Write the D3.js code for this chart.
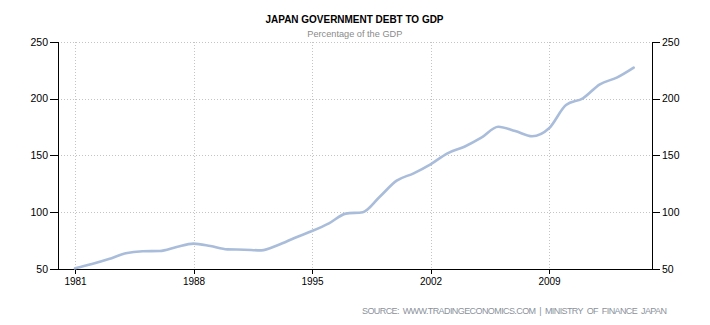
<!DOCTYPE html>
<html>
<head>
<meta charset="utf-8">
<script src="https://cdn.jsdelivr.net/npm/d3@7"></script>
<style>
  html, body { margin: 0; padding: 0; background: #fff; }
  svg { display: block; }
</style>
</head>
<body>
<svg id="chart" width="710" height="325"></svg>
<script>
// Japan government debt, percent of GDP, yearly
const years = [1981, 1982, 1983, 1984, 1985, 1986, 1987, 1988, 1989, 1990,
               1991, 1992, 1993, 1994, 1995, 1996, 1997, 1998, 1999, 2000,
               2001, 2002, 2003, 2004, 2005, 2006, 2007, 2008, 2009, 2010,
               2011, 2012, 2013, 2014];
const debtToGdp = [50.6, 54.4, 58.8, 63.8, 65.6, 65.9, 69.4, 72.3, 70.2, 67.3,
                   67.0, 66.4, 71.1, 77.5, 83.4, 90.2, 98.7, 100.0, 113.6, 127.7,
                   134.2, 142.1, 151.8, 157.6, 165.5, 175.2, 171.4, 166.8, 173.8, 194.3,
                   200.2, 212.5, 218.4, 227.2];
const xTickYears = [1981, 1988, 1995, 2002, 2009];
const yTickValues = [50, 100, 150, 200, 250];

const title = "JAPAN GOVERNMENT DEBT TO GDP";
const subtitle = "Percentage of the GDP";
const source = "SOURCE:  WWW.TRADINGECONOMICS.COM  |  MINISTRY  OF  FINANCE  JAPAN";

const svg = d3.select("#chart");
const plot = { left: 58, right: 652, top: 41.7, bottom: 269 };

const x = d3.scaleLinear().domain([1981, 2014]).range([75, 633.7]);
const y = d3.scaleLinear().domain([50, 250]).range([plot.bottom, plot.top]);

const font = "'Liberation Sans', Arial, sans-serif";

// dotted grid
const grid = svg.append("g").attr("stroke", "#c4c4c4").attr("stroke-width", 1)
  .attr("stroke-dasharray", "1,2").attr("shape-rendering", "crispEdges");
grid.selectAll("line.h").data(yTickValues.filter(v => v > 50)).join("line")
  .attr("class", "h")
  .attr("x1", plot.left).attr("x2", plot.right)
  .attr("y1", d => Math.round(y(d)) + 0.5).attr("y2", d => Math.round(y(d)) + 0.5);
grid.selectAll("line.v").data(xTickYears).join("line")
  .attr("class", "v")
  .attr("x1", d => Math.round(x(d)) + 0.5).attr("x2", d => Math.round(x(d)) + 0.5)
  .attr("y1", plot.top).attr("y2", plot.bottom);

// axes
const leftAxis = d3.axisLeft(y).tickValues(yTickValues).tickSize(8).tickPadding(2)
  .tickFormat(d3.format("d"));
const rightAxis = d3.axisRight(y).tickValues(yTickValues).tickSize(8).tickPadding(2)
  .tickFormat(d3.format("d"));
const bottomAxis = d3.axisBottom(x).tickValues(xTickYears).tickSize(5).tickPadding(4)
  .tickFormat(d3.format("d"));

function styleAxis(g, size) {
  g.select(".domain").remove();
  g.selectAll(".tick line").attr("stroke", "#000").attr("shape-rendering", "crispEdges");
  g.selectAll(".tick text").attr("fill", "#000").style("font-family", font)
    .style("font-size", size + "px");
}

svg.append("g").attr("transform", `translate(${plot.left},0)`)
  .call(leftAxis).call(g => styleAxis(g, 10.5));
svg.append("g").attr("transform", `translate(${plot.right},0)`)
  .call(rightAxis).call(g => styleAxis(g, 10.5));
svg.append("g").attr("transform", `translate(0,${plot.bottom})`)
  .call(bottomAxis).call(g => styleAxis(g, 10));

// axis frame lines (left, right, bottom)
const frame = svg.append("g").attr("stroke", "#000").attr("stroke-width", 1)
  .attr("shape-rendering", "crispEdges");
frame.append("line").attr("x1", plot.left).attr("x2", plot.left)
  .attr("y1", plot.top).attr("y2", plot.bottom);
frame.append("line").attr("x1", plot.right).attr("x2", plot.right)
  .attr("y1", plot.top).attr("y2", plot.bottom);
frame.append("line").attr("x1", plot.left).attr("x2", plot.right)
  .attr("y1", plot.bottom).attr("y2", plot.bottom);

// series line
const line = d3.line()
  .x((d, i) => x(years[i]))
  .y(d => y(d))
  .curve(d3.curveMonotoneX);
svg.append("path").datum(debtToGdp)
  .attr("d", line)
  .attr("fill", "none")
  .attr("stroke", "#a9bddb")
  .attr("stroke-width", 2.6)
  .attr("stroke-linejoin", "round")
  .attr("stroke-linecap", "round");

// titles
svg.append("text").text(title)
  .attr("x", 354.5).attr("y", 23.3).attr("text-anchor", "middle")
  .attr("textLength", 178).attr("lengthAdjust", "spacingAndGlyphs")
  .style("font-family", font).style("font-weight", "bold").style("font-size", "11.5px")
  .attr("fill", "#000");
svg.append("text").text(subtitle)
  .attr("x", 354.8).attr("y", 36.5).attr("text-anchor", "middle")
  .attr("textLength", 95).attr("lengthAdjust", "spacingAndGlyphs")
  .style("font-family", font).style("font-size", "9.3px")
  .attr("fill", "#8a8a8a");
svg.append("text").text(source)
  .attr("x", 362).attr("y", 313.5).attr("xml:space", "preserve")
  .attr("textLength", 305).attr("lengthAdjust", "spacing")
  .style("font-family", font).style("font-size", "9px").style("white-space", "pre")
  .attr("fill", "#8b929c");
</script>
</body>
</html>
